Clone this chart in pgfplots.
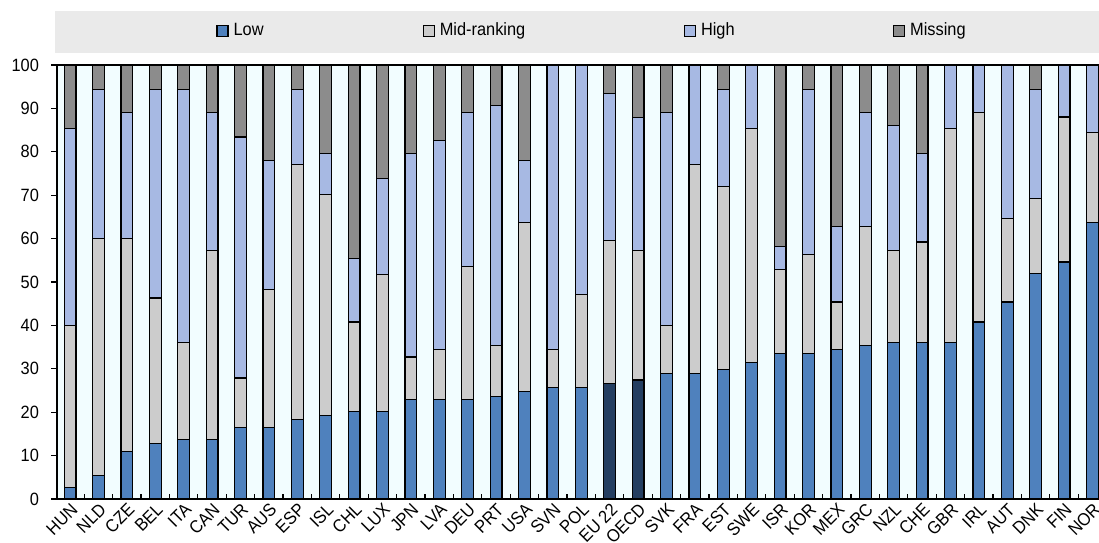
\documentclass[border=0pt]{standalone}
\usepackage{pgfplots}
\pgfplotsset{compat=1.18}
\usepackage{pgfplotstable}
\usepackage{fontspec}
\setmainfont[FakeStretch=0.92]{Liberation Sans}
\definecolor{lowc}{RGB}{79,129,189}
\definecolor{lowdark}{RGB}{36,62,97}
\definecolor{midc}{RGB}{204,204,204}
\definecolor{highc}{RGB}{167,185,227}
\definecolor{missc}{RGB}{140,140,140}
\definecolor{bgc}{RGB}{242,253,255}
\definecolor{legbg}{RGB}{234,234,234}

\pgfplotstableread{
idx low lowagg mid high miss
0 2.7 0 37.2 45.4 14.7
1 5.4 0 54.6 34.4 5.6
2 11.0 0 49.0 29.0 11.0
3 12.7 0 33.6 48.1 5.6
4 13.7 0 22.4 58.3 5.6
5 13.7 0 43.6 31.7 11.0
6 16.5 0 11.4 55.5 16.6
7 16.5 0 31.7 29.8 22.0
8 18.4 0 58.6 17.4 5.6
9 19.3 0 50.9 9.5 20.3
10 20.1 0 20.7 14.6 44.6
11 20.1 0 31.6 22.1 26.2
12 22.9 0 9.8 47.0 20.3
13 22.9 0 11.6 48.1 17.4
14 22.9 0 30.7 35.4 11.0
15 23.6 0 11.8 55.3 9.3
16 24.7 0 39.0 14.3 22.0
17 25.6 0 8.9 65.5 0
18 25.6 0 21.6 52.8 0
19 0 26.6 32.9 34.0 6.5
20 0 27.4 29.9 30.6 12.1
21 28.9 0 11.0 49.1 11.0
22 28.9 0 48.1 23.0 0
23 29.8 0 42.2 22.4 5.6
24 31.5 0 53.8 14.7 0
25 33.5 0 19.3 5.4 41.8
26 33.5 0 22.9 38.0 5.6
27 34.4 0 11.0 17.4 37.2
28 35.4 0 27.4 26.2 11.0
29 36.1 0 21.2 28.8 13.9
30 36.1 0 23.1 20.5 20.3
31 36.1 0 49.2 14.7 0
32 40.8 0 48.2 11.0 0
33 45.4 0 19.3 35.3 0
34 51.9 0 17.4 25.1 5.6
35 54.6 0 33.4 12.0 0
36 63.7 0 20.8 15.5 0
}\data

\begin{document}
\begin{tikzpicture}
\path[use as bounding box] (0pt,0pt) rectangle (549.5pt,271pt);
\fill[legbg] (27.5pt,244.5pt) rectangle (549.5pt,265.5pt);
\begin{axis}[
  at={(28.5pt,21.5pt)}, anchor=south west,
  scale only axis, width=521pt, height=217pt,
  ybar stacked, bar width=0.42,
  xmin=-0.46, xmax=36.23, ymin=0, ymax=100,
  axis background/.style={fill=bgc},
  axis line style={line width=0.8pt},
  font=\fontsize{8.9}{10}\selectfont,
  /pgf/number format/assume math mode=true,
  xtick={0,...,36},
  xticklabels={HUN,NLD,CZE,BEL,ITA,CAN,TUR,AUS,ESP,ISL,CHL,LUX,JPN,LVA,DEU,PRT,USA,SVN,POL,EU 22,OECD,SVK,FRA,EST,SWE,ISR,KOR,MEX,GRC,NZL,CHE,GBR,IRL,AUT,DNK,FIN,NOR},
  xticklabel style={rotate=45, anchor=north east, inner sep=1pt, font=\fontsize{8.9}{10}\selectfont},
  minor xtick={-0.5,0.5,...,36},
  xtick pos=bottom, ytick pos=left,
  tick align=inside,
  major tick length=3pt, minor tick length=2.5pt,
  major x tick style={draw=none},
  minor x tick style={draw=black, line width=0.6pt},
  ytick={0,10,...,100},
  ytick style={xshift=-3pt, draw=black, line width=0.6pt},
  yticklabel style={font=\fontsize{8.9}{10}\selectfont, xshift=-5.5pt},
  legend style={at={(0.1526,1.0783)}, anchor=west, draw=none, fill=none,
    legend columns=4, inner sep=0pt, nodes={inner sep=0pt},
    font=\fontsize{8.9}{10}\selectfont,
    /tikz/every odd column/.append style={column sep=2.5pt},
    /tikz/every even column/.append style={column sep=0pt}},
  legsq/.style={legend image code/.code={\draw[##1, line width=0.6pt] (0pt,-2.75pt) rectangle (5.5pt,2.75pt);}},
  every axis plot/.append style={draw=black, line width=0.6pt},
]
\addplot[fill=lowc, legsq] table[x=idx,y=low]{\data};
\addlegendentry{\makebox[94.5pt][l]{Low}}
\addplot[fill=lowdark, forget plot] table[x=idx,y=lowagg]{\data};
\addplot[fill=midc, legsq] table[x=idx,y=mid]{\data};
\addlegendentry{\makebox[122pt][l]{Mid-ranking}}
\addplot[fill=highc, legsq] table[x=idx,y=high]{\data};
\addlegendentry{\makebox[96pt][l]{High}}
\addplot[fill=missc, legsq] table[x=idx,y=miss]{\data};
\addlegendentry{Missing}
\end{axis}
\end{tikzpicture}
\end{document}
